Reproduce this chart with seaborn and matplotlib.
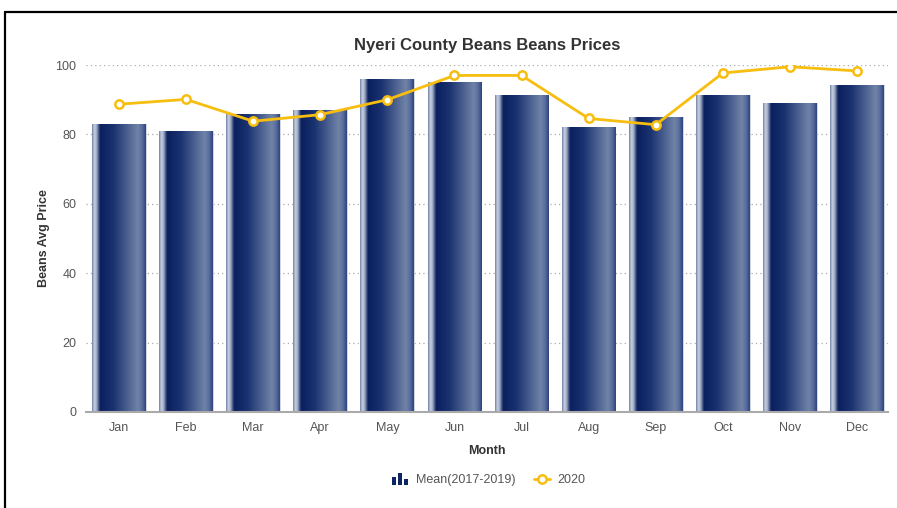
import numpy as np
import pandas as pd
import matplotlib
matplotlib.use("Agg")
import matplotlib.pyplot as plt
from matplotlib.colors import LinearSegmentedColormap
from matplotlib.legend_handler import HandlerBase
from matplotlib.patches import Rectangle
from matplotlib.lines import Line2D
import seaborn as sns

# ---- data ----
months = ["Jan", "Feb", "Mar", "Apr", "May", "Jun",
          "Jul", "Aug", "Sep", "Oct", "Nov", "Dec"]
mean_2017_2019 = [83, 81, 86, 87, 96, 95.2, 91.3, 82.2, 85.1, 91.3, 89.1, 94.2]
prices_2020 = [88.7, 90.1, 83.8, 85.7, 90.0, 97.0, 97.0, 84.6, 82.8, 97.7, 99.5, 98.3]
y_ticks = [0, 20, 40, 60, 80, 100]

title = "Nyeri County Beans Beans Prices"
x_label = "Month"
y_label = "Beans Avg Price"
bar_label = "Mean(2017-2019)"
line_label = "2020"

NAVY = "#0d2563"
GOLD = "#f7bd0f"
TEXT = "#555555"

sns.set_theme(style="white")
plt.rcParams["font.family"] = ["Liberation Sans", "DejaVu Sans"]

df = pd.DataFrame({"Month": months, "Mean": mean_2017_2019, "Y2020": prices_2020})

fig = plt.figure(figsize=(8.97, 5.08), dpi=100)
ax = fig.add_axes([0.0959, 0.189, 0.894, 0.683])

sns.barplot(data=df, x="Month", y="Mean", order=months, color=NAVY,
            width=0.8, ax=ax, zorder=2)

# cylinder-like horizontal gradient for each bar
grad_cmap = LinearSegmentedColormap.from_list("bar", [
    (0.00, "#6a7ca0"),
    (0.04, "#c9d1e2"),
    (0.08, "#aab5cc"),
    (0.15, "#0a1f5e"),
    (0.40, "#1a3270"),
    (0.85, "#7083a8"),
    (0.93, "#5a6e9e"),
    (1.00, "#2c427c"),
])
gradient = np.linspace(0, 1, 256).reshape(1, -1)
for patch in ax.patches:
    x0, y0 = patch.get_x(), patch.get_y()
    w, h = patch.get_width(), patch.get_height()
    img = ax.imshow(gradient, cmap=grad_cmap, aspect="auto",
                    extent=[x0, x0 + w, y0, y0 + h], zorder=2,
                    interpolation="bicubic")
    img.set_clip_path(patch)
    patch.set_facecolor("none")
    patch.set_edgecolor("#c8cfdd")
    patch.set_linewidth(0.6)

sns.pointplot(data=df, x="Month", y="Y2020", order=months, color=GOLD,
              errorbar=None, markers="o", linewidth=2.0, markersize=6,
              markerfacecolor="white", markeredgecolor=GOLD,
              markeredgewidth=1.8, ax=ax, zorder=4)

ax.set_xlim(-0.49, 11.46)
ax.set_ylim(0, 100)
ax.set_yticks(y_ticks)
ax.yaxis.grid(True, linestyle=(0, (1, 2.5)), color="#aaaaaa", linewidth=0.9)
ax.set_axisbelow(True)
for side in ["left", "right", "top"]:
    ax.spines[side].set_visible(False)
ax.spines["bottom"].set_color("#aaaaaa")
ax.spines["bottom"].set_linewidth(1.5)
ax.spines["bottom"].set_zorder(5)
ax.tick_params(axis="both", length=0, labelsize=9, colors=TEXT, pad=7)
ax.tick_params(axis="y", pad=7)

ax.set_xlabel(x_label, fontsize=9, fontweight="bold", color="#333333", labelpad=8)
ax.set_ylabel(y_label, fontsize=9, fontweight="bold", color="#333333", labelpad=4)
ax.set_title(title, fontsize=12, fontweight="bold", color="#333333", pad=11)


class BarIconHandler(HandlerBase):
    def create_artists(self, legend, orig_handle, xdescent, ydescent,
                       width, height, fontsize, trans):
        arts = []
        bw = width * 0.24
        heights = [0.9, 1.4, 0.7]
        for i, hh in enumerate(heights):
            r = Rectangle((xdescent + i * width * 0.36, -ydescent - 1.5),
                          bw, height * hh, facecolor=NAVY,
                          edgecolor="none", transform=trans)
            arts.append(r)
        return arts


bar_handle = Rectangle((0, 0), 1, 1, color=NAVY)
line_handle = Line2D([], [], color=GOLD, linewidth=2, marker="o",
                     markersize=6, markerfacecolor="white",
                     markeredgecolor=GOLD, markeredgewidth=1.8)
fig.legend([bar_handle, line_handle], [bar_label, line_label],
           handler_map={Rectangle: BarIconHandler()},
           loc="center", bbox_to_anchor=(0.545, 0.055), ncol=2,
           frameon=False, fontsize=9, labelcolor=TEXT,
           handlelength=1.3, handletextpad=0.6, columnspacing=1.5)

# outer frame (left and top edges of the card)
fig.add_artist(Line2D([5 / 897, 5 / 897], [0, 1 - 12 / 508],
                      transform=fig.transFigure, color="black", linewidth=1.6))
fig.add_artist(Line2D([5 / 897, 1], [1 - 12 / 508, 1 - 12 / 508],
                      transform=fig.transFigure, color="black", linewidth=1.6))

fig.savefig("out.png", dpi=100, facecolor="white")
